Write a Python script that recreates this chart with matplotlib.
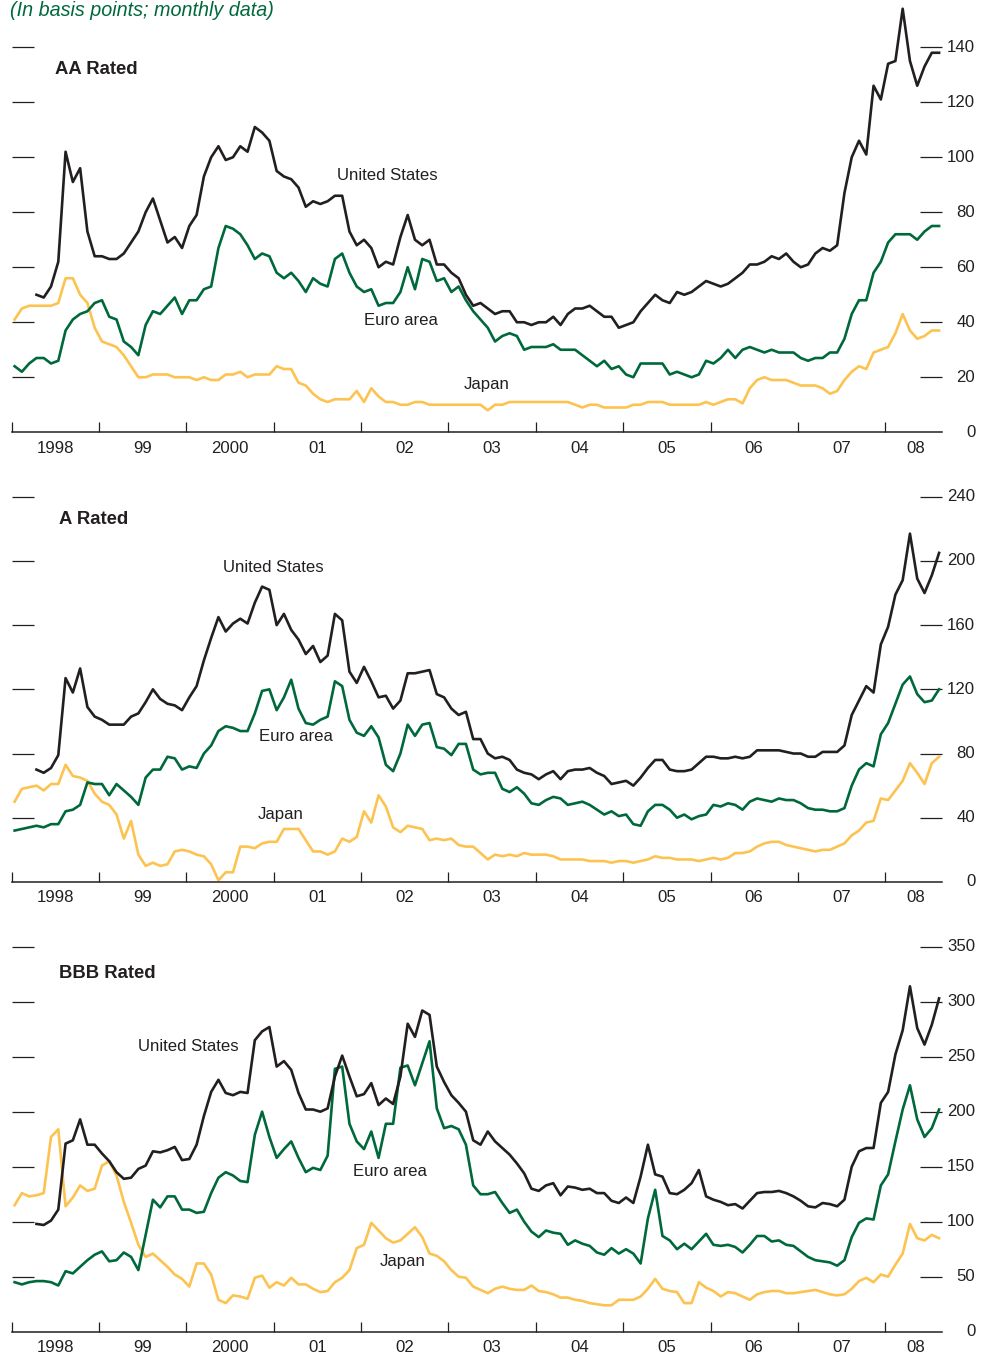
import numpy as np
import matplotlib
matplotlib.use("Agg")
import matplotlib.pyplot as plt
from matplotlib import font_manager

# pick a condensed face if there is one
_names = {f.name for f in font_manager.fontManager.ttflist}
NARROW = "Liberation Sans Narrow" in _names
FONT = "Liberation Sans Narrow" if NARROW else "Liberation Sans"
plt.rcParams["font.family"] = [FONT, "DejaVu Sans"]
K = 1.0 if NARROW else 0.86   # shrink wide face to match the condensed widths

BLACK = "#231f20"
GREEN = "#00693c"
YELLOW = "#fdc350"

# monthly, Jan 1998 - Aug 2008 (US series start Apr 1998)
months = 1998 + (np.arange(128) + 0.4) / 12
year_ticks = list(range(1998, 2009))
year_labels = ["1998", "99", "2000", "01", "02", "03", "04", "05", "06", "07", "08"]
year_label_pos = [y + 0.5 for y in range(1998, 2008)] + [2008.35]

# ---- AA rated
us_aa = [50, 49, 53, 62, 102, 91, 96, 73, 64, 64, 63, 63, 65, 69, 73, 80, 85, 77, 69, 71,
         67, 75, 79, 93, 100, 104, 99, 100, 104, 102,
         111, 109, 106, 95, 93, 92, 89, 82, 84, 83, 84, 86, 86, 73, 68, 70, 67, 60, 62, 61,
         71, 79, 70, 68, 70, 61, 61, 58, 56, 50, 46,
         47, 45, 43, 44, 44, 40, 40, 39, 40, 40, 42, 39, 43, 45, 45, 46, 44, 42, 42, 38,
         39, 40, 44, 47, 50, 48, 47, 51, 50, 51, 53, 55, 54,
         53, 54, 56, 58, 61, 61, 62, 64, 63, 65, 62, 60, 61, 65, 67, 66, 68, 87, 100, 106,
         101, 126, 121, 134, 135, 154, 135, 126, 133, 138, 138]
euro_aa = [24, 22, 25, 27, 27, 25, 26, 37, 41, 43, 44, 47, 48, 42, 41, 33, 31, 28, 39, 44,
           43, 46, 49, 43, 48, 48, 52, 53, 67, 75, 74, 72, 68, 63, 65, 64, 58, 56, 58, 55,
           51, 56, 54, 53, 63, 65, 58, 53, 51, 52, 46, 47, 47, 51, 60, 52, 63, 62, 55, 56,
           51, 53, 48, 44, 41, 38, 33, 35, 36, 35, 30, 31, 31, 31, 32, 30, 30, 30, 28, 26,
           24, 26, 23, 24, 21, 20, 25, 25, 25, 25, 21, 22, 21, 20, 21, 26, 25, 27, 30, 27,
           30, 31, 30, 29, 30, 29, 29, 29, 27, 26, 27, 27, 29, 29, 34, 43, 48, 48, 58, 62,
           69, 72, 72, 72, 70, 73, 75, 75]
japan_aa = [41, 45, 46, 46, 46, 46, 47, 56, 56, 50, 47, 38, 33, 32, 31, 28, 24, 20, 20, 21,
            21, 21, 20, 20, 20, 19, 20, 19, 19, 21, 21, 22, 20, 21, 21, 21, 24, 23, 23, 18,
            17, 14, 12, 11, 12, 12, 12, 15, 11, 16, 13, 11, 11, 10, 10, 11, 11, 10, 10, 10,
            10, 10, 10, 10, 10, 8, 10, 10, 11, 11, 11, 11, 11, 11, 11, 11, 11, 10, 9, 10,
            10, 9, 9, 9, 9, 10, 10, 11, 11, 11, 10, 10, 10, 10, 10, 11, 10, 11, 12, 12,
            10.5, 16, 19, 20, 19, 19, 19, 18, 17, 17, 17, 16, 14, 15, 19, 22, 24, 23, 29, 30,
            31, 36, 43, 37, 34, 35, 37, 37]

# ---- A rated
us_a = [70, 68, 71, 79, 127, 118, 133, 109, 103, 101, 98, 98, 98, 103, 105, 112, 120, 114, 111, 110,
        107, 115, 122, 138, 152, 165, 156, 161, 164, 161,
        174, 184, 182, 160, 167, 157, 151, 142, 147, 137, 141, 167, 163, 131, 124, 134, 125, 115, 116, 108,
        113, 130, 130, 131, 132, 117, 115, 108, 104, 106, 89,
        89, 80, 77, 78, 76, 70, 68, 67, 64, 67, 69, 64, 69, 70, 70, 71, 68, 66, 61, 62,
        63, 60, 65, 71, 76, 76, 70, 69, 69, 70, 74, 78, 78,
        77, 77, 78, 77, 78, 82, 82, 82, 82, 81, 80, 80, 78, 78, 81, 81, 81, 85, 104, 113,
        122, 118, 148, 159, 179, 188, 217, 189, 180, 191, 205]
euro_a = [32, 33, 34, 35, 34, 36, 36, 44, 45, 48, 62, 61, 61, 54, 61, 57, 53, 48, 65, 70,
          70, 78, 77, 70, 72, 71, 80, 85, 94, 97, 96, 94, 94, 105, 119, 120, 107, 115, 126, 108,
          99, 98, 101, 103, 125, 122, 101, 93, 91, 97, 90, 73, 69, 80, 98, 91, 98, 99, 84, 83,
          79, 86, 86, 70, 67, 68, 68, 58, 56, 59, 55, 49, 48, 51, 53, 52, 48, 49, 50, 48,
          45, 42, 44, 41, 42, 36, 35, 44, 48, 48, 45, 40, 42, 39, 41, 42, 48, 47, 49, 48,
          45, 50, 52, 51, 50, 52, 51, 51, 49, 46, 45, 45, 44, 44, 46, 60, 70, 74, 72, 92,
          99, 111, 123, 128, 117, 112, 113, 120]
japan_a = [50, 58, 59, 60, 57, 61, 61, 73, 66, 65, 63, 55, 50, 48, 42, 27, 38, 17, 10, 12,
           10, 11, 19, 20, 19, 17, 16, 11, 1, 6, 6, 22, 22, 21, 24, 25, 25, 33, 33, 33,
           26, 19, 19, 17, 19, 27, 25, 28, 44, 37, 54, 47, 34, 31, 35, 34, 33, 26, 27, 26,
           27, 23, 22, 22, 18, 14, 17, 16, 17, 16, 18, 17, 17, 17, 16, 14, 14, 14, 14, 13,
           13, 13, 12, 13, 13, 12, 13, 14, 16, 15, 15, 14, 14, 14, 13, 14, 15, 14, 15, 18,
           18, 19, 22, 24, 25, 25, 23, 22, 21, 20, 19, 20, 20, 22, 24, 29, 32, 37, 38, 52,
           51, 57, 63, 74, 68, 61, 74, 78]

# ---- BBB rated
us_bbb = [98, 97, 101, 111, 171, 174, 193, 170, 170, 162, 155, 145, 139, 140, 148, 151, 164, 163, 165, 168,
          156, 157, 170, 196, 218, 229, 217, 215, 218, 217,
          265, 273, 277, 241, 246, 238, 217, 202, 202, 200, 203, 232, 251, 232, 214, 216, 226, 206, 212, 207,
          232, 280, 268, 292, 288, 241, 227, 215, 208, 200, 174,
          170, 182, 173, 167, 161, 153, 144, 130, 128, 133, 135, 124, 132, 131, 129, 130, 126, 126, 119, 117,
          122, 117, 141, 170, 143, 141, 126, 125, 129, 135, 147, 123, 120,
          118, 115, 116, 112, 119, 126, 127, 127, 128, 126, 123, 119, 114, 113, 117, 116, 114, 120, 150, 164,
          167, 167, 208, 218, 252, 274, 314, 276, 261, 279, 303]
euro_bbb = [45, 43, 45, 46, 46, 45, 42, 55, 53, 59, 65, 70, 73, 64, 65, 72, 68, 56, 88, 120,
            113, 123, 123, 111, 111, 108, 109, 126, 140, 145, 142, 137, 136, 179, 200, 177, 158, 166, 173, 158,
            145, 149, 147, 160, 239, 241, 189, 173, 166, 182, 158, 189, 189, 240, 242, 224, 244, 264, 203, 185,
            187, 184, 170, 133, 125, 125, 127, 117, 108, 111, 100, 91, 86, 92, 90, 89, 79, 83, 80, 78,
            72, 70, 76, 71, 75, 71, 62, 103, 129, 87, 83, 75, 80, 75, 82, 89, 79, 78, 79, 77,
            72, 79, 87, 87, 82, 83, 79, 78, 73, 68, 65, 64, 63, 60, 65, 86, 99, 103, 102, 133,
            143, 173, 202, 224, 193, 177, 185, 202]
japan_bbb = [115, 126, 123, 124, 126, 177, 184, 114, 122, 133, 128, 130, 151, 155, 142, 118, 99, 79, 68, 71,
             65, 59, 52, 48, 41, 62, 62, 52, 29, 26, 33, 32, 30, 49, 51, 40, 45, 42, 49, 43,
             43, 39, 36, 37, 45, 49, 56, 76, 79, 99, 92, 85, 81, 83, 89, 95, 86, 71, 69, 64,
             56, 50, 49, 41, 38, 35, 39, 41, 39, 38, 38, 42, 37, 36, 34, 31, 31, 29, 28, 26,
             25, 24, 24, 29, 29, 29, 32, 39, 48, 39, 37, 36, 26, 26, 45, 40, 37, 32, 36, 35,
             32, 29, 34, 36, 37, 37, 35, 35, 36, 37, 38, 36, 34, 33, 34, 39, 46, 49, 45, 52,
             50, 61, 71, 98, 85, 83, 88, 85]

panels = [
    dict(title="AA Rated", us=us_aa, euro=euro_aa, japan=japan_aa,
         yticks=[0, 20, 40, 60, 80, 100, 120, 140], ymax=155.4,
         rect=[0.01193, 0.6824, 0.9483, 0.3140], title_xy=(0.0465, 0.848),
         labels=[(2002.30, 93.2, "United States"), (2002.46, 40.8, "Euro area"),
                 (2003.44, 17.2, "Japan")]),
    dict(title="A Rated", us=us_a, euro=euro_a, japan=japan_a,
         yticks=[0, 40, 80, 120, 160, 200, 240], ymax=256.6,
         rect=[0.01193, 0.3520, 0.9483, 0.3026], title_xy=(0.0508, 0.881),
         labels=[(2000.99, 196.2, "United States"), (2001.25, 90.3, "Euro area"),
                 (2001.08, 42.3, "Japan")]),
    dict(title="BBB Rated", us=us_bbb, euro=euro_bbb, japan=japan_bbb,
         yticks=[0, 50, 100, 150, 200, 250, 300, 350], ymax=369.7,
         rect=[0.01193, 0.02153, 0.9483, 0.2988], title_xy=(0.0508, 0.882),
         labels=[(2000.02, 259.7, "United States"), (2002.33, 145.2, "Euro area"),
                 (2002.47, 63.4, "Japan")]),
]

fig = plt.figure(figsize=(9.81, 13.61), dpi=100)

for p in panels:
    ax = fig.add_axes(p["rect"])
    ax.plot(months, p["japan"], color=YELLOW, lw=1.9, clip_on=False)
    ax.plot(months, p["euro"], color=GREEN, lw=1.9, clip_on=False)
    ax.plot(months[3:], p["us"], color=BLACK, lw=1.9, clip_on=False)

    ax.set_xlim(1998, 2008.65)
    ax.set_ylim(0, p["ymax"])
    for s in ("top", "left", "right"):
        ax.spines[s].set_visible(False)
    ax.spines["bottom"].set_color(BLACK)
    ax.spines["bottom"].set_linewidth(1.1)

    # years: ticks on the boundaries, labels in between
    ax.set_xticks(year_ticks)
    ax.tick_params(axis="x", which="major", direction="in", length=7, width=0.9,
                   color=BLACK, labelbottom=False)
    ax.set_xticks(year_label_pos, minor=True)
    ax.set_xticklabels(year_labels, minor=True)
    ax.tick_params(axis="x", which="minor", length=0, pad=6, labelsize=14 * K,
                   labelcolor=BLACK)

    # dashes on both sides, numbers on the right
    ax.set_yticks([v for v in p["yticks"] if v > 0])
    ax.tick_params(axis="y", direction="in", length=15.5, width=0.9, color=BLACK,
                   left=True, right=True, labelleft=False, labelright=False)
    for v in p["yticks"]:
        ax.annotate(str(v), xy=(1, v), xycoords=("axes fraction", "data"),
                    xytext=(24, 0), textcoords="offset points",
                    ha="right", va="center", fontsize=14 * K, color=BLACK)

    ax.text(p["title_xy"][0], p["title_xy"][1], p["title"], transform=ax.transAxes,
            fontsize=15.5 * K, fontweight="bold", color=BLACK, ha="left", va="center")
    for x, y, s in p["labels"]:
        ax.text(x, y, s, fontsize=14 * K, color=BLACK, ha="center", va="center")

fig.text(10 / 981, 1 - 10 / 1361, "(In basis points; monthly data)", fontsize=16.5 * K,
         style="italic", color=GREEN, ha="left", va="center")

plt.savefig("out.png", dpi=100)
